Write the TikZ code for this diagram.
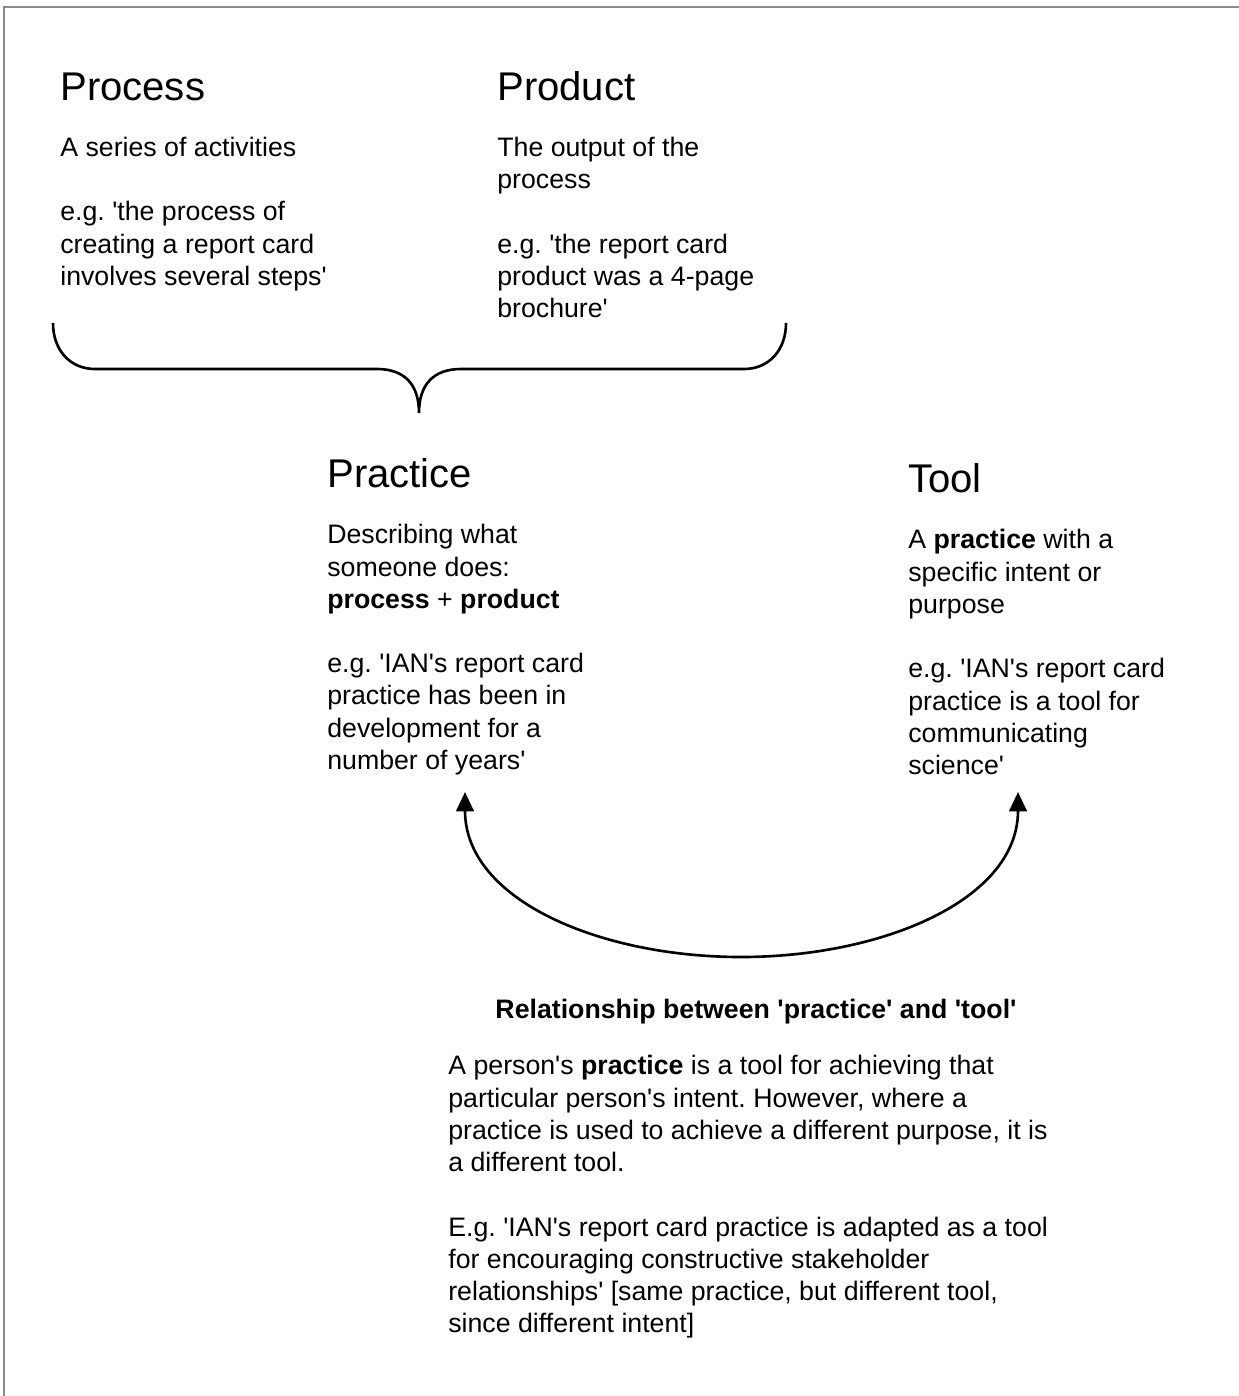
\documentclass[tikz,border=0pt]{standalone}
\usepackage{fontspec}
\setmainfont{Liberation Sans}[Ligatures=TeXOff]
\usetikzlibrary{arrows.meta}
\definecolor{framegray}{HTML}{8A8A8A}
\frenchspacing
\tikzset{
  head/.style={anchor=base west, inner sep=0pt, font=\fontsize{22.8}{27}\selectfont},
  % multi-line blocks are placed by the baseline of their last line
  body/.style={anchor=base west, inner sep=0pt, align=left, font=\fontsize{15.2}{18.33}\selectfont},
  title/.style={anchor=base, inner sep=0pt, font=\fontsize{15.2}{18.33}\selectfont\bfseries},
  curve/.style={line width=1.5pt, black},
  link/.style={curve, {Triangle[length=11pt,width=10pt]}-{Triangle[length=11pt,width=10pt]}},
  frameline/.style={draw=framegray, line width=1.1pt}
}
\newcommand{\gap}{\\[18.33pt]}
\begin{document}
\begin{tikzpicture}[x=0.02cm, y=-0.02cm]
  \useasboundingbox (0,0) rectangle (1239,1396);
  % page frame (top and left edges)
  \draw[frameline] (4,1396) -- (4,7) -- (1239,7);

  % Process
  \node[head] (prochead) at (60,100) {Process};
  \node[body] (proctext) at (60,285.3) {A series of activities\gap
    e.g. 'the process of\\creating a report card\\involves several steps'};

  % Product
  \node[head] (prodhead) at (497,100) {Product};
  \node[body] (prodtext) at (497,317.5) {The output of the\\process\gap
    e.g. 'the report card\\product was a 4-page\\brochure'};

  % brace joining process and product
  \coordinate (bl) at (53,323);
  \coordinate (br) at (786,323);
  \coordinate (btip) at (419,413);
  \draw[curve] (bl) .. controls (53,350) and (70,369) .. (95,369)
    -- (377,369) .. controls (405,369) and (419,385) .. (btip)
    .. controls (419,385) and (433,369) .. (461,369)
    -- (744,369) .. controls (769,369) and (786,350) .. (br);

  % Practice
  \node[head] (prachead) at (327,487) {Practice};
  \node[body] (practext) at (327,769.4) {Describing what\\someone does:\\
    \textbf{process} + \textbf{product}\gap
    e.g. 'IAN's report card\\practice has been in\\development for a\\number of years'};

  % Tool
  \node[head] (toolhead) at (908,492) {Tool};
  \node[body] (tooltext) at (908,774.4) {A \textbf{practice} with a\\specific intent or\\purpose\gap
    e.g. 'IAN's report card\\practice is a tool for\\communicating\\science'};

  % two-way link between practice and tool
  \coordinate (pa) at (465,792);
  \coordinate (ta) at (1018,792);
  \draw[link] (pa) .. controls (465,900) and (600,957) .. (741,957)
    .. controls (882,957) and (1018,900) .. (ta);

  % Relationship
  \node[title] (reltitle) at (756,1018) {Relationship between 'practice' and 'tool'};
  \node[body] (reltext) at (448,1332.6) {A person's \textbf{practice} is a tool for achieving that\\
    particular person's intent. However, where a\\
    practice is used to achieve a different purpose, it is\\
    a different tool.\gap
    E.g. 'IAN's report card practice is adapted as a tool\\
    for encouraging constructive stakeholder\\
    relationships' [same practice, but different tool,\\
    since different intent]};
\end{tikzpicture}
\end{document}
